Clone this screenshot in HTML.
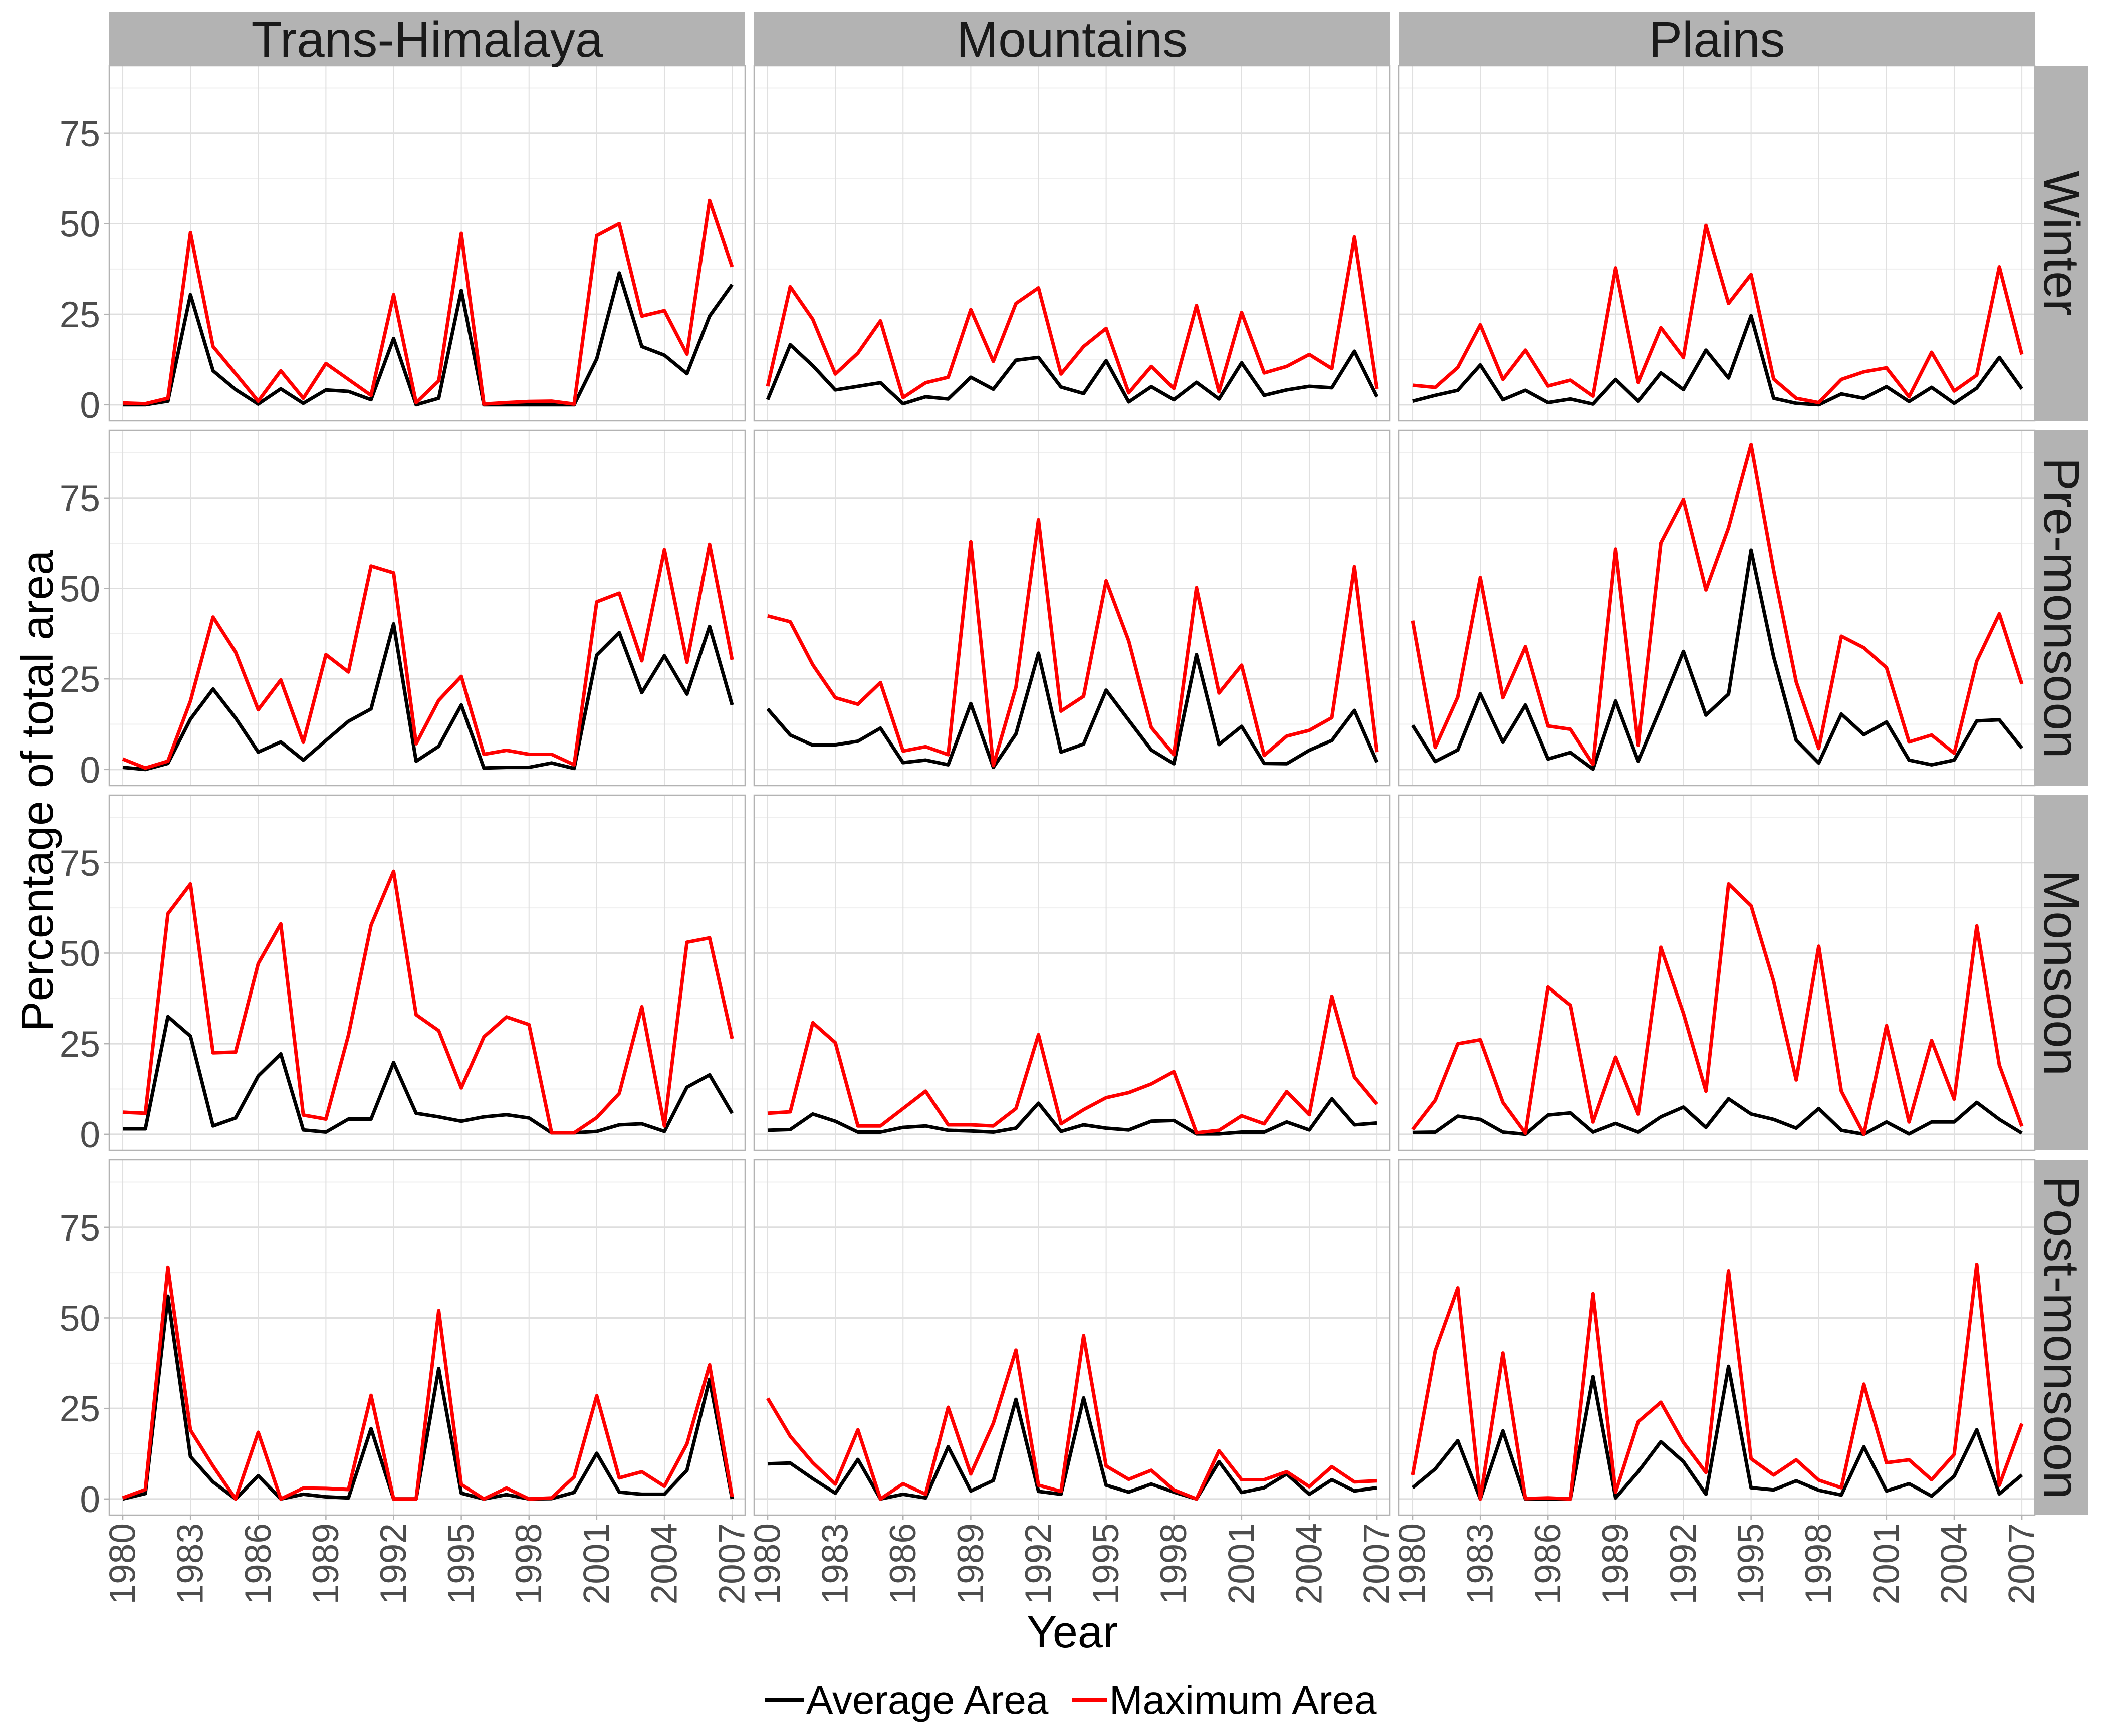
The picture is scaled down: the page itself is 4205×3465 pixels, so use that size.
<!DOCTYPE html>
<html><head><meta charset="utf-8">
<style>
html,body{margin:0;padding:0;background:#fff;}
svg{display:block;}
text{font-family:"Liberation Sans",Arial,sans-serif;}
</style></head>
<body>
<svg id="chart" width="4205" height="3465" viewBox="0 0 4205 3465" xmlns="http://www.w3.org/2000/svg">
<rect x="0" y="0" width="4205" height="3465" fill="#ffffff"/>
<g id="panels"></g>
<text x="75" y="1578" font-size="90" fill="#000" text-anchor="middle" dominant-baseline="central" transform="rotate(-90 75 1578)">Percentage of total area</text>
<text x="2140" y="3288" font-size="90" fill="#000" text-anchor="middle">Year</text>
<g>
<line x1="1526" y1="3393" x2="1604" y2="3393" stroke="#000" stroke-width="8"/>
<text x="1609" y="3421" font-size="80" fill="#000">Average Area</text>
<line x1="2140" y1="3393" x2="2210" y2="3393" stroke="#ff0000" stroke-width="8"/>
<text x="2214" y="3421" font-size="80" fill="#000">Maximum Area</text>
</g>
</svg>
<script>
const years = [1980,1981,1982,1983,1984,1985,1986,1987,1988,1989,1990,1991,1992,1993,1994,1995,1996,1997,1998,1999,2000,2001,2002,2003,2004,2005,2006,2007];
const regions = ["Trans-Himalaya","Mountains","Plains"];
const seasons = ["Winter","Pre-monsoon","Monsoon","Post-monsoon"];
const yTicks = [0,25,50,75];
const xTickLabels = [1980,1983,1986,1989,1992,1995,1998,2001,2004,2007];

// Winter
const avgTransWinter = [0,0,1,30.4,9.4,4.2,0.2,4.4,0.4,4.1,3.7,1.4,18.3,0,1.8,31.6,0,0,0,0,0,12.7,36.4,16.1,13.7,8.6,24.5,33.2];
const maxTransWinter = [0.5,0.3,1.8,47.5,16.1,8.6,1,9.4,1.8,11.4,7,2.6,30.4,0.6,6.6,47.3,0.2,0.6,0.9,1,0.2,46.7,50,24.5,26,14,56.4,38.1];
const avgMountWinter = [1.4,16.6,10.8,4.1,5.1,6.1,0.3,2.2,1.6,7.6,4.3,12.3,13.1,4.9,3.1,12.2,0.8,5,1.4,6.2,1.6,11.6,2.6,4.1,5.1,4.7,14.8,2.2];
const maxMountWinter = [5.1,32.6,23.6,8.5,14.3,23.2,2,6.1,7.6,26.3,12,28,32.3,8.5,16.1,21.1,3.3,10.6,4.5,27.4,3.6,25.5,8.8,10.6,13.9,10,46.3,4.4];
const avgPlainWinter = [1,2.6,4,11,1.4,4,0.6,1.6,0.2,7,1,8.8,4.2,15.1,7.4,24.6,1.8,0.4,0,3,1.8,5,0.9,4.8,0.4,4.6,13.1,4.4];
const maxPlainWinter = [5.4,4.8,10.3,22.1,7,15.1,5.2,6.8,2.4,37.8,6.2,21.3,13.1,49.5,28,36,7.1,1.8,0.6,7,9.1,10.2,2.2,14.5,3.8,8.2,38.1,13.9];
// Pre-monsoon
const avgTransPre = [0.6,0,1.7,13.9,22.2,14.2,4.8,7.6,2.6,8,13.3,16.7,40.2,2.3,6.4,17.8,0.4,0.6,0.6,1.8,0.3,31.6,37.8,21.2,31.4,20.8,39.5,17.8];
const maxTransPre = [2.9,0.4,2.3,18.9,42.1,32.4,16.5,24.7,7.5,31.7,26.9,56.2,54.3,7.1,19.1,25.7,4.2,5.3,4.2,4.2,1.3,46.3,48.7,30,60.7,29.6,62.2,30.3];
const avgMountPre = [16.7,9.5,6.7,6.8,7.8,11.4,1.9,2.6,1.3,18.2,0.6,9.8,32.1,4.8,7,21.9,13.6,5.4,1.6,31.7,6.9,11.9,1.7,1.6,5.3,8,16.3,2];
const maxMountPre = [42.4,40.8,28.9,19.8,18,24,5.1,6.3,4.1,62.9,1.1,22.7,69,16.1,20.2,52.1,35.5,11.6,4.1,50.2,21.1,28.8,3.9,9.2,10.8,14.3,56,4.8];
const avgPlainPre = [12.2,2.2,5.4,20.9,7.5,17.8,2.9,4.7,0.1,18.9,2.3,17.2,32.6,15,20.8,60.6,31.1,8.1,1.8,15.3,9.6,13.1,2.6,1.3,2.6,13.4,13.7,5.9];
const maxPlainPre = [41.1,6.1,20,53,19.8,33.9,12,11.1,1.4,60.9,6.7,62.6,74.6,49.6,66.8,89.7,55,24.2,5.8,36.8,33.6,28.1,7.6,9.5,4.5,29.9,43,23.6];
// Monsoon
const avgTransMon = [1.5,1.5,32.5,27.1,2.3,4.5,16.1,22.2,1.2,0.6,4.2,4.2,19.8,5.8,4.8,3.6,4.8,5.4,4.5,0.4,0.4,0.8,2.6,2.9,0.8,13,16.4,5.8];
const maxTransMon = [6.1,5.8,60.9,69.1,22.5,22.7,47.1,58.1,5.3,4.2,27.4,57.7,72.6,33,28.6,12.8,26.9,32.4,30.3,0.4,0.4,4.6,11.3,35.2,2.3,53,54.2,26.4];
const avgMountMon = [1.1,1.3,5.6,3.6,0.6,0.6,1.9,2.3,1.1,0.9,0.6,1.7,8.6,0.8,2.6,1.7,1.2,3.6,3.8,0.1,0.1,0.6,0.6,3.4,1.2,9.8,2.6,3.1];
const maxMountMon = [5.8,6.2,30.8,25.3,2.3,2.3,7.1,11.9,2.6,2.6,2.3,7.1,27.5,2.9,6.8,10.1,11.5,13.9,17.3,0.4,1.1,5.1,2.9,11.8,5.4,38.1,15.8,8.3];
const avgPlainMon = [0.5,0.6,5,4.1,0.6,0,5.3,5.9,0.6,3,0.6,4.8,7.5,1.9,9.8,5.6,4.1,1.7,7.1,1.1,0,3.4,0.1,3.4,3.4,8.8,4.1,0.3];
const maxPlainMon = [1.3,9.4,25,26.1,8.8,0.3,40.6,35.6,3.4,21.3,5.6,51.6,33.4,11.9,69.1,63.1,42.2,15,51.9,11.9,0,30,3.4,25.9,9.7,57.5,19.1,2.2];
// Post-monsoon
const avgTransPost = [0,1.5,56,11.7,4.7,0,6.4,0,1.3,0.6,0.3,19.4,0,0,36,1.6,0,1.2,0,0.1,1.8,12.6,1.9,1.3,1.3,7.9,33,0];
const maxTransPost = [0.3,2.6,64,19,9.1,0,18.4,0,3,2.9,2.6,28.6,0,0,52,4,0,3,0,0.3,6.1,28.5,5.8,7.5,3.5,15.2,37,0.6];
const avgMountPost = [9.7,9.9,5.6,1.6,10.9,0,1.3,0.3,14.4,2.2,5.1,27.5,2.1,1.3,27.9,3.8,1.9,4.1,1.9,0,10.3,1.8,3.1,6.9,1.3,5.3,2.2,3.1];
const maxMountPost = [27.8,17.3,10,4.1,19.1,0,4.2,1.3,25.3,6.9,20.9,41.1,3.8,2.1,45.1,9.1,5.4,7.9,2.5,0,13.3,5.3,5.3,7.5,3.4,8.9,4.7,5];
const avgPlainPost = [3.1,8.3,16.1,0,18.8,0,0,0,33.8,0.3,7.5,15.8,10.3,1.3,36.6,3.1,2.5,5,2.4,1.1,14.4,2.2,4.2,0.8,6.3,19.1,1.4,6.6];
const maxPlainPost = [6.6,40.9,58.3,0,40.3,0.1,0.3,0,56.7,1.9,21.3,26.7,15.6,7.3,63,11.1,6.6,10.8,5.2,3.1,31.7,10,10.8,5.3,12.3,64.8,3.8,20.8];

const avgSeries = [
  [avgTransWinter, avgMountWinter, avgPlainWinter],
  [avgTransPre, avgMountPre, avgPlainPre],
  [avgTransMon, avgMountMon, avgPlainMon],
  [avgTransPost, avgMountPost, avgPlainPost]
];
const maxSeries = [
  [maxTransWinter, maxMountWinter, maxPlainWinter],
  [maxTransPre, maxMountPre, maxPlainPre],
  [maxTransMon, maxMountMon, maxPlainMon],
  [maxTransPost, maxMountPost, maxPlainPost]
];

const NS = "http://www.w3.org/2000/svg";
const colX = [218,1505,2792], rowY = [131,859,1587,2315];
const PW = 1269, PH = 709;
const YMIN = -4.45, YMAX = 93.65;
const XMIN = 1980 - 0.6, XMAX = 2007 + 0.575;
function xScale(c, yr){ return colX[c] + (yr - XMIN) / (XMAX - XMIN) * PW; }
function yScale(r, v){ return rowY[r] + PH - (v - YMIN) / (YMAX - YMIN) * PH; }
function mk(tag, attrs){ const e = document.createElementNS(NS, tag); for (const k in attrs) e.setAttribute(k, attrs[k]); return e; }
const root = document.getElementById("panels");
const slug = s => s.toLowerCase().replace(/[^a-z]+/g, "-");

for (let r = 0; r < 4; r++) {
  for (let c = 0; c < 3; c++) {
    const g = mk("g", {});
    
    
    root.appendChild(g);
    const bg = mk("rect", {x: colX[c], y: rowY[r], width: PW, height: PH, fill: "#fff"});
    
    
    g.appendChild(bg);
    // minor horizontal grid
    for (let i = 0; i < 4; i++) {
      const v = 12.5 + 25 * i;
      const ln = mk("line", {x1: colX[c], x2: colX[c] + PW, y1: yScale(r, v), y2: yScale(r, v), stroke: "#efefef", "stroke-width": 2});
      
      
      g.appendChild(ln);
    }
    for (const v of yTicks) {
      const ln = mk("line", {x1: colX[c], x2: colX[c] + PW, y1: yScale(r, v), y2: yScale(r, v), stroke: "#dedede", "stroke-width": 3});
      
      
      g.appendChild(ln);
    }
    for (const yr of xTickLabels) {
      const ln = mk("line", {x1: xScale(c, yr), x2: xScale(c, yr), y1: rowY[r], y2: rowY[r] + PH, stroke: "#e0e0e0", "stroke-width": 2});
      
      
      g.appendChild(ln);
    }
    const series = [[maxSeries[r][c], "#ff0000", "maximum-area-line"], [avgSeries[r][c], "#000000", "average-area-line"]];
    for (const s of series.reverse()) {
      const pts = s[0].map((v, i) => xScale(c, years[i]).toFixed(1) + "," + yScale(r, v).toFixed(1)).join(" ");
      const pl = mk("polyline", {points: pts, fill: "none", stroke: s[1], "stroke-width": 7, "stroke-linejoin": "round"});
      
      
      g.appendChild(pl);
    }
    const border = mk("rect", {x: colX[c], y: rowY[r], width: PW, height: PH, fill: "none", stroke: "#b3b3b3", "stroke-width": 2.5});
    
    
    g.appendChild(border);
  }
}
// column strips
for (let c = 0; c < 3; c++) {
  const rc = mk("rect", {x: colX[c], y: 23, width: PW, height: 108, fill: "#b3b3b3"});
  
  
  root.appendChild(rc);
  const t = mk("text", {x: colX[c] + PW / 2, y: 113, "font-size": 100, "text-anchor": "middle", fill: "#1a1a1a"});
  t.textContent = regions[c];
  
  
  root.appendChild(t);
}
// row strips
for (let r = 0; r < 4; r++) {
  const rc = mk("rect", {x: 4061, y: rowY[r], width: 107, height: PH, fill: "#b3b3b3"});
  
  
  root.appendChild(rc);
  const cx = 4114, cy = rowY[r] + PH / 2;
  const t = mk("text", {x: cx, y: cy, "font-size": 100, "text-anchor": "middle", "dominant-baseline": "central", fill: "#1a1a1a", transform: "rotate(90 " + cx + " " + cy + ")"});
  t.textContent = seasons[r];
  
  
  root.appendChild(t);
}
// y axis ticks and labels
for (let r = 0; r < 4; r++) {
  for (const v of yTicks) {
    const y = yScale(r, v);
    const tk = mk("line", {x1: 208, x2: 218, y1: y, y2: y, stroke: "#b3b3b3", "stroke-width": 2.5});
    
    
    root.appendChild(tk);
    const t = mk("text", {x: 200, y: y + 26, "font-size": 73, "text-anchor": "end", fill: "#4d4d4d"});
    t.textContent = String(v);
    
    
    root.appendChild(t);
  }
}
// x axis ticks and labels
for (let c = 0; c < 3; c++) {
  for (const yr of xTickLabels) {
    const x = xScale(c, yr);
    const tk = mk("line", {x1: x, x2: x, y1: 3024, y2: 3034, stroke: "#b3b3b3", "stroke-width": 2.5});
    
    
    root.appendChild(tk);
    const ty = 3040;
    const t = mk("text", {x: x, y: ty, "font-size": 73, "text-anchor": "end", "dominant-baseline": "central", fill: "#4d4d4d", transform: "rotate(-90 " + x + " " + ty + ")"});
    t.textContent = String(yr);
    
    
    root.appendChild(t);
  }
}
</script>
</body></html>
